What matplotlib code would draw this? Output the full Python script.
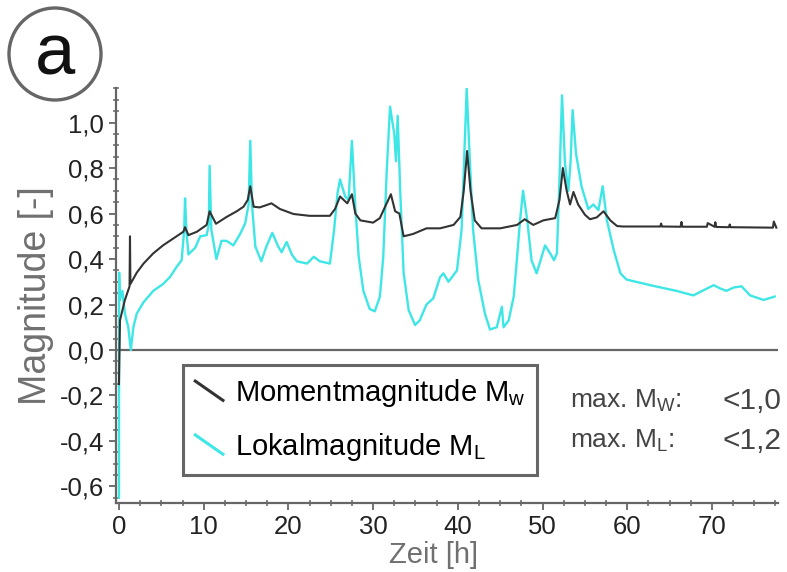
import matplotlib
matplotlib.use('Agg')
import matplotlib.pyplot as plt
from matplotlib.lines import Line2D
from matplotlib.patches import Ellipse
from matplotlib.legend_handler import HandlerBase
from matplotlib.ticker import MultipleLocator, FuncFormatter

plt.rcParams['font.family'] = ['Liberation Sans', 'DejaVu Sans']
plt.rcParams['mathtext.fontset'] = 'custom'
plt.rcParams['mathtext.rm'] = 'Liberation Sans'
plt.rcParams['mathtext.it'] = 'Liberation Sans'

# Momentmagnitude Mw (time in h, magnitude)
mw_time = [0.0, 0.12, 0.7, 1.25, 1.3, 1.35, 2.1, 2.9, 4.05, 5.2, 6.4, 7.6, 7.8, 8.2,
           9.2, 10.35, 10.7, 11.45, 12.7, 13.9, 14.7, 15.2, 15.5, 15.9, 16.6, 17.4,
           18.0, 19.0, 20.6, 22.5, 24.9, 25.5, 26.1, 26.95, 27.5, 27.9, 28.5, 30.0,
           30.8, 31.6, 32.1, 32.6, 33.1, 33.6, 34.7, 36.3, 37.9, 39.5, 40.3, 40.7,
           41.1, 41.5, 42.0, 42.8, 45.0, 47.0, 47.9, 48.9, 50.1, 51.5, 52.0, 52.4,
           52.85, 53.25, 53.65, 54.2, 55.0, 55.6, 56.4, 57.2, 58.0, 58.8, 59.5,
           63.9, 64.0, 64.1, 66.3, 66.4, 66.5, 69.4, 69.5, 70.3, 70.4, 70.5, 72.0,
           72.1, 72.2, 77.2, 77.3, 77.6]
mw_mag = [-0.15, 0.13, 0.22, 0.28, 0.50, 0.29, 0.34, 0.38, 0.425, 0.46, 0.49, 0.52,
          0.54, 0.505, 0.52, 0.55, 0.61, 0.555, 0.585, 0.61, 0.63, 0.66, 0.72, 0.63,
          0.627, 0.637, 0.645, 0.62, 0.598, 0.59, 0.59, 0.62, 0.675, 0.645, 0.685,
          0.60, 0.57, 0.56, 0.58, 0.645, 0.685, 0.61, 0.60, 0.50, 0.51, 0.535, 0.535,
          0.55, 0.585, 0.70, 0.875, 0.70, 0.57, 0.535, 0.535, 0.55, 0.575, 0.55, 0.57,
          0.58, 0.66, 0.80, 0.70, 0.64, 0.695, 0.64, 0.595, 0.575, 0.583, 0.61, 0.57,
          0.545, 0.543, 0.543, 0.556, 0.543, 0.542, 0.563, 0.542, 0.542, 0.558, 0.542,
          0.562, 0.541, 0.54, 0.552, 0.54, 0.538, 0.565, 0.538]

# Lokalmagnitude ML
ml_time = [0.0, 0.02, 0.1, 0.4, 0.7, 1.1, 1.4, 1.7, 2.1, 2.9, 4.05, 5.2, 6.0, 6.8,
           7.4, 7.7, 7.8, 7.95, 8.2, 9.0, 9.6, 10.35, 10.6, 10.7, 10.9, 11.5, 12.1,
           12.7, 13.5, 14.3, 14.9, 15.3, 15.5, 15.7, 16.1, 16.8, 17.4, 18.1, 18.8,
           19.2, 19.8, 20.4, 21.0, 22.2, 23.0, 23.7, 24.9, 25.4, 25.8, 26.1, 26.7,
           27.1, 27.3, 27.5, 27.9, 28.3, 28.85, 29.6, 30.2, 30.8, 31.2, 31.6, 32.0,
           32.5, 32.7, 32.9, 33.2, 33.6, 34.2, 34.95, 35.5, 36.3, 37.1, 37.9, 38.3,
           38.9, 39.9, 40.45, 40.8, 41.05, 41.35, 41.8, 42.4, 43.2, 43.8, 44.6, 45.2,
           45.4, 46.0, 46.6, 46.9, 47.35, 47.7, 48.2, 48.7, 49.3, 49.9, 50.3, 50.9,
           51.35, 51.7, 52.0, 52.3, 52.65, 53.05, 53.3, 53.55, 53.95, 54.6, 55.4,
           56.0, 56.6, 57.1, 57.6, 58.4, 59.2, 59.9, 62.7, 65.8, 67.8, 70.2, 71.0,
           71.7, 72.6, 73.5, 74.5, 76.1, 77.4]
ml_mag = [-0.65, 0.34, 0.22, 0.26, 0.16, 0.10, 0.0, 0.10, 0.16, 0.21, 0.26, 0.29, 0.32,
          0.365, 0.395, 0.53, 0.667, 0.53, 0.42, 0.45, 0.50, 0.505, 0.55, 0.81, 0.53,
          0.40, 0.48, 0.48, 0.46, 0.51, 0.557, 0.64, 0.92, 0.64, 0.455, 0.39, 0.455,
          0.515, 0.455, 0.43, 0.475, 0.42, 0.39, 0.38, 0.41, 0.39, 0.38, 0.53, 0.69,
          0.75, 0.675, 0.66, 0.79, 0.92, 0.63, 0.41, 0.26, 0.18, 0.17, 0.235, 0.41,
          0.78, 1.07, 0.95, 0.83, 1.03, 0.70, 0.34, 0.175, 0.11, 0.13, 0.20, 0.227,
          0.32, 0.337, 0.30, 0.35, 0.53, 0.89, 1.15, 0.89, 0.53, 0.31, 0.16, 0.09,
          0.10, 0.19, 0.10, 0.13, 0.235, 0.365, 0.57, 0.70, 0.57, 0.395, 0.337, 0.41,
          0.46, 0.425, 0.395, 0.425, 0.75, 1.12, 0.82, 0.70, 0.82, 1.055, 0.865, 0.72,
          0.62, 0.64, 0.615, 0.72, 0.57, 0.44, 0.337, 0.31, 0.285, 0.26, 0.24, 0.285,
          0.27, 0.26, 0.275, 0.28, 0.24, 0.22, 0.235]

gray = '#666666'
cyan = '#3fe6e6'
dark = '#333333'


class DiagHandler(HandlerBase):
    # short diagonal stroke like in the original legend
    def create_artists(self, legend, orig_handle, xdescent, ydescent,
                       width, height, fontsize, trans):
        x0 = -xdescent
        x1 = -xdescent + width
        line = Line2D([x0, x1], [height * 1.15, height * 0.05],
                      color=orig_handle.get_color(), lw=2.2)
        line.set_transform(trans)
        return [line]


fig = plt.figure(figsize=(7.87, 5.72), dpi=100)
ax = fig.add_axes([0.1474, 0.1206, 0.8412, 0.7255])

ax.axhline(0, color=gray, lw=1.6, zorder=1)
l_ml, = ax.plot(ml_time, ml_mag, color=cyan, lw=1.7, zorder=2)
l_mw, = ax.plot(mw_time, mw_mag, color=dark, lw=1.5, zorder=3)

ax.set_xlim(-0.35, 77.8)
ax.set_ylim(-0.673, 1.152)

for s in ['top', 'right']:
    ax.spines[s].set_visible(False)
for s in ['left', 'bottom']:
    ax.spines[s].set_color(gray)
    ax.spines[s].set_linewidth(1.6)

ax.xaxis.set_major_locator(MultipleLocator(10))
ax.xaxis.set_minor_locator(MultipleLocator(2.5))
ax.yaxis.set_major_locator(MultipleLocator(0.2))
ax.yaxis.set_minor_locator(MultipleLocator(0.05))
ax.yaxis.set_major_formatter(FuncFormatter(lambda v, p: f'{v:.1f}'.replace('.', ',').replace('-0,0', '0,0')))
ax.tick_params(which='major', direction='out', length=5, width=1.3, color=gray,
               labelsize=18.5, labelcolor='#222222')
ax.tick_params(which='minor', direction='inout', length=4, width=1.1, color=gray)

ax.set_xlabel('Zeit [h]', fontsize=21, color='#707070', va='baseline')
ax.xaxis.set_label_coords(0.48, -0.145)
ax.set_ylabel('Magnitude [-]', fontsize=27, color='#707070', labelpad=4)

leg = ax.legend([l_mw, l_ml],
                ['Momentmagnitude M$_\\mathrm{w}$', 'Lokalmagnitude M$_\\mathrm{L}$'],
                handler_map={Line2D: DiagHandler()},
                loc='upper left', bbox_to_anchor=(183 / 787, 1 - 365 / 572),
                bbox_transform=fig.transFigure, fontsize=21, frameon=True,
                fancybox=False, framealpha=1, edgecolor=gray, handlelength=0.95,
                handleheight=0.55, handletextpad=0.4, labelspacing=0.75,
                borderpad=0.42, borderaxespad=0)
leg.get_frame().set_linewidth(2.2)

fig.text(570 / 787, 1 - 401 / 572, 'max. M$_\\mathrm{W}$:', fontsize=19,
         color='#444444', va='center', ha='left')
fig.text(781 / 787, 1 - 401 / 572, '<1,0', fontsize=21.5,
         color='#444444', va='center', ha='right')
fig.text(570 / 787, 1 - 441 / 572, 'max. M$_\\mathrm{L}$:', fontsize=19,
         color='#444444', va='center', ha='left')
fig.text(781 / 787, 1 - 441 / 572, '<1,2', fontsize=21.5,
         color='#444444', va='center', ha='right')

# panel label
circ = Ellipse((55 / 787, 1 - 54 / 572), 92 / 787, 92 / 572,
               transform=fig.transFigure, fill=False, edgecolor=gray, lw=2.4)
fig.patches.append(circ)
fig.text(55 / 787, 1 - 56 / 572, 'a', fontsize=52, ha='center', va='center', color='#111111')

fig.savefig('out.png', dpi=100)
